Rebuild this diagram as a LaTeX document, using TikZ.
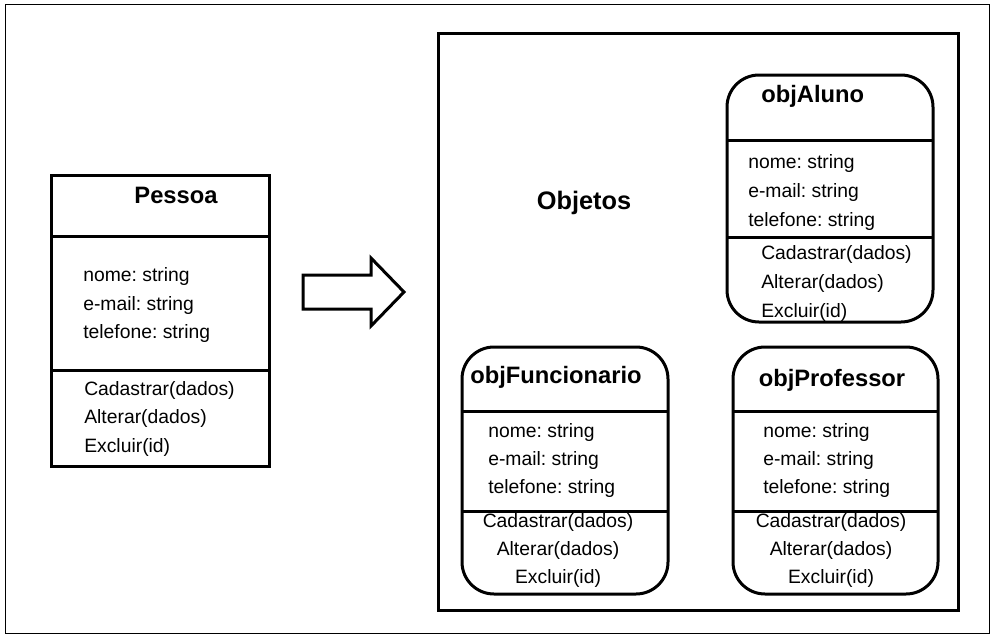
\documentclass[tikz,border=0pt]{standalone}
\usepackage{fontspec}
\setmainfont{Liberation Sans}
\frenchspacing
\begin{document}
\begin{tikzpicture}[x=0.75pt,y=0.75pt,yscale=-1,xscale=1,
  frame/.style={line width=0.75pt},
  boxline/.style={line width=2.25pt},
  objline/.style={line width=2.25pt, rounded corners=24pt},
  attr/.style={anchor=base west, inner sep=0.75pt, font=\fontsize{14.5}{17}\selectfont},
  methc/.style={anchor=base, inner sep=0.75pt, font=\fontsize{14.5}{17}\selectfont},
  ttl/.style={anchor=base, inner sep=0.75pt, font=\fontsize{17.8}{21}\selectfont\bfseries}]
  \useasboundingbox (0,0) rectangle (997,639);
  %Shape: Rectangle [outer frame]
  \draw[frame] (5,4) rectangle (989,633);

  %Shape: Rectangle [Pessoa]
  \draw[boxline] (51,175) rectangle (269,466);
  \draw[boxline] (51,236) -- (269,236);
  \draw[boxline] (51,370) -- (269,370);
  % Text Node
  \draw (176,203) node [ttl] (pesTitulo) {Pessoa};
  % Text Node
  \draw (82,281) node [attr] (pesNome) {nome: string};
  % Text Node
  \draw (82,310) node [attr] (pesEmail) {e-mail: string};
  % Text Node
  \draw (82,338) node [attr] (pesFone) {telefone: string};
  % Text Node
  \draw (83,395) node [attr] (pesCad) {Cadastrar(dados)};
  % Text Node
  \draw (83,423) node [attr] (pesAlt) {Alterar(dados)};
  % Text Node
  \draw (83,452) node [attr] (pesExc) {Excluir(id)};

  %Shape: Block Arrow
  \draw[boxline, line join=miter] (303,275) -- (371,275) -- (371,258) -- (404,292) -- (371,326) -- (371,309) -- (303,309) -- cycle;

  %Shape: Rectangle [Objetos]
  \draw[boxline] (438,33) rectangle (958,610);
  % Text Node
  \draw (584,209) node [ttl, font=\fontsize{19}{22}\selectfont\bfseries] (objetos) {Objetos};

  %Shape: Rounded Rect [objAluno]
  \draw[objline] (727,75) rectangle (933,322);
  \draw[boxline] (727,140) -- (933,140);
  \draw[boxline] (727,237) -- (933,237);
  % Text Node
  \draw (760,102) node [ttl, anchor=base west] (aluTitulo) {objAluno};
  % Text Node
  \draw (747,168) node [attr] (aluNome) {nome: string};
  % Text Node
  \draw (747,197) node [attr] (aluEmail) {e-mail: string};
  % Text Node
  \draw (747,226) node [attr] (aluFone) {telefone: string};
  % Text Node
  \draw (760,259) node [attr] (aluCad) {Cadastrar(dados)};
  % Text Node
  \draw (760,288) node [attr] (aluAlt) {Alterar(dados)};
  % Text Node
  \draw (760,317) node [attr] (aluExc) {Excluir(id)};

  %Shape: Rounded Rect [objFuncionario]
  \draw[objline] (462,347) rectangle (668,594);
  \draw[boxline] (462,411) -- (668,411);
  \draw[boxline] (462,511) -- (668,511);
  % Text Node
  \draw (469,383) node [ttl, anchor=base west] (funTitulo) {objFuncionario};
  % Text Node
  \draw (487,437) node [attr] (funNome) {nome: string};
  % Text Node
  \draw (487,465) node [attr] (funEmail) {e-mail: string};
  % Text Node
  \draw (487,493) node [attr] (funFone) {telefone: string};
  % Text Node
  \draw (558,527) node [methc] (funCad) {Cadastrar(dados)};
  % Text Node
  \draw (558,555) node [methc] (funAlt) {Alterar(dados)};
  % Text Node
  \draw (558,583) node [methc] (funExc) {Excluir(id)};

  %Shape: Rounded Rect [objProfessor]
  \draw[objline] (733,347) rectangle (938,594);
  \draw[boxline] (733,411) -- (938,411);
  \draw[boxline] (733,511) -- (938,511);
  % Text Node
  \draw (832,386) node [ttl] (proTitulo) {objProfessor};
  % Text Node
  \draw (762,437) node [attr] (proNome) {nome: string};
  % Text Node
  \draw (762,465) node [attr] (proEmail) {e-mail: string};
  % Text Node
  \draw (762,493) node [attr] (proFone) {telefone: string};
  % Text Node
  \draw (831,527) node [methc] (proCad) {Cadastrar(dados)};
  % Text Node
  \draw (831,555) node [methc] (proAlt) {Alterar(dados)};
  % Text Node
  \draw (831,583) node [methc] (proExc) {Excluir(id)};
\end{tikzpicture}
\end{document}
